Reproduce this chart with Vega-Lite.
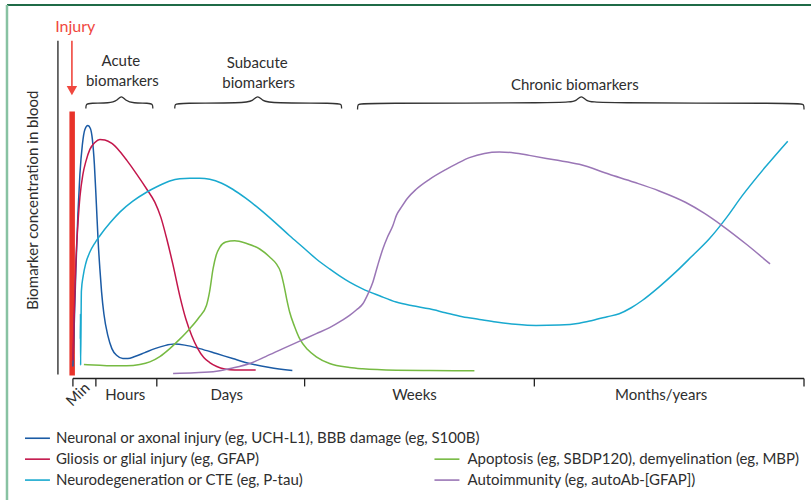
{
  "$schema": "https://vega.github.io/schema/vega-lite/v6.json",
  "width": 812,
  "height": 502,
  "padding": 0,
  "autosize": {"type": "fit", "contains": "padding"},
  "config": {"view": {"stroke": null}, "text": {"font": "Lato", "fontSize": 15, "color": "#2e2e2e"}},
  "datasets": {
    "segs": [
      {"g": "borderTop", "x": 7, "y": 5, "x2": 812, "y2": 5},
      {"g": "borderLeft", "x": 7, "y": 5, "x2": 7, "y2": 502},
      {"g": "axis", "x": 58, "y": 41, "x2": 58, "y2": 376},
      {"g": "axis", "x": 73, "y": 380, "x2": 805, "y2": 380},
      {"g": "axis", "x": 73, "y": 380, "x2": 73, "y2": 388},
      {"g": "axis", "x": 96, "y": 380, "x2": 96, "y2": 388},
      {"g": "axis", "x": 157, "y": 380, "x2": 157, "y2": 388},
      {"g": "axis", "x": 305, "y": 380, "x2": 305, "y2": 388},
      {"g": "axis", "x": 535, "y": 380, "x2": 535, "y2": 388},
      {"g": "axis", "x": 805, "y": 380, "x2": 805, "y2": 388},
      {"g": "arrow", "x": 72, "y": 41, "x2": 72, "y2": 88},
      {"g": "bar", "x": 69.5, "y": 112, "x2": 75, "y2": 377}
    ],
    "braces": [
      {"b": "acute", "i": 0, "x": 86, "y": 109}, {"b": "acute", "i": 1, "x": 86, "y": 104.5}, {"b": "acute", "i": 2, "x": 90, "y": 103.5},
      {"b": "acute", "i": 3, "x": 110, "y": 103.5}, {"b": "acute", "i": 4, "x": 117, "y": 101.5}, {"b": "acute", "i": 5, "x": 121.5, "y": 95},
      {"b": "acute", "i": 6, "x": 126, "y": 101.5}, {"b": "acute", "i": 7, "x": 133, "y": 103.5}, {"b": "acute", "i": 8, "x": 149, "y": 103.5},
      {"b": "acute", "i": 9, "x": 153, "y": 104.5}, {"b": "acute", "i": 10, "x": 153, "y": 109},
      {"b": "sub", "i": 0, "x": 175, "y": 109}, {"b": "sub", "i": 1, "x": 175, "y": 104.5}, {"b": "sub", "i": 2, "x": 179, "y": 103.5},
      {"b": "sub", "i": 3, "x": 245, "y": 103.5}, {"b": "sub", "i": 4, "x": 253, "y": 101.5}, {"b": "sub", "i": 5, "x": 258, "y": 95},
      {"b": "sub", "i": 6, "x": 263, "y": 101.5}, {"b": "sub", "i": 7, "x": 271, "y": 103.5}, {"b": "sub", "i": 8, "x": 338, "y": 103.5},
      {"b": "sub", "i": 9, "x": 342, "y": 104.5}, {"b": "sub", "i": 10, "x": 342, "y": 109},
      {"b": "chr", "i": 0, "x": 358, "y": 110}, {"b": "chr", "i": 1, "x": 358, "y": 104.5}, {"b": "chr", "i": 2, "x": 362, "y": 103.5},
      {"b": "chr", "i": 3, "x": 569, "y": 103.5}, {"b": "chr", "i": 4, "x": 577, "y": 101.5}, {"b": "chr", "i": 5, "x": 582, "y": 95},
      {"b": "chr", "i": 6, "x": 587, "y": 101.5}, {"b": "chr", "i": 7, "x": 595, "y": 103.5}, {"b": "chr", "i": 8, "x": 801, "y": 103.5},
      {"b": "chr", "i": 9, "x": 805, "y": 104.5}, {"b": "chr", "i": 10, "x": 805, "y": 110}
    ],
    "curves": [
      {"s": "blue", "x": 73, "y": 368}, {"s": "blue", "x": 74.5, "y": 320}, {"s": "blue", "x": 76, "y": 270}, {"s": "blue", "x": 78, "y": 215},
      {"s": "blue", "x": 80, "y": 175}, {"s": "blue", "x": 82.5, "y": 145}, {"s": "blue", "x": 85, "y": 130}, {"s": "blue", "x": 88, "y": 126},
      {"s": "blue", "x": 90.5, "y": 129}, {"s": "blue", "x": 92.5, "y": 140}, {"s": "blue", "x": 94.5, "y": 165}, {"s": "blue", "x": 96.5, "y": 205},
      {"s": "blue", "x": 98.3, "y": 243}, {"s": "blue", "x": 100, "y": 270}, {"s": "blue", "x": 101.7, "y": 293}, {"s": "blue", "x": 104, "y": 315},
      {"s": "blue", "x": 108, "y": 337}, {"s": "blue", "x": 112, "y": 350}, {"s": "blue", "x": 117, "y": 357}, {"s": "blue", "x": 123, "y": 360},
      {"s": "blue", "x": 128, "y": 360}, {"s": "blue", "x": 135, "y": 358}, {"s": "blue", "x": 145, "y": 354}, {"s": "blue", "x": 155, "y": 350},
      {"s": "blue", "x": 165, "y": 347}, {"s": "blue", "x": 175, "y": 345.5}, {"s": "blue", "x": 185, "y": 346.5}, {"s": "blue", "x": 200, "y": 350},
      {"s": "blue", "x": 216.7, "y": 355}, {"s": "blue", "x": 233, "y": 360}, {"s": "blue", "x": 250, "y": 365}, {"s": "blue", "x": 270, "y": 369},
      {"s": "blue", "x": 292.7, "y": 372},
      {"s": "red", "x": 73, "y": 362}, {"s": "red", "x": 74.5, "y": 310}, {"s": "red", "x": 76, "y": 262}, {"s": "red", "x": 78, "y": 225},
      {"s": "red", "x": 80, "y": 198}, {"s": "red", "x": 83, "y": 175}, {"s": "red", "x": 86, "y": 162}, {"s": "red", "x": 90, "y": 150},
      {"s": "red", "x": 95, "y": 143}, {"s": "red", "x": 100, "y": 140}, {"s": "red", "x": 105, "y": 140.5}, {"s": "red", "x": 112, "y": 144},
      {"s": "red", "x": 120, "y": 152}, {"s": "red", "x": 127, "y": 161}, {"s": "red", "x": 137, "y": 175}, {"s": "red", "x": 147, "y": 190},
      {"s": "red", "x": 155, "y": 203}, {"s": "red", "x": 161, "y": 218}, {"s": "red", "x": 167, "y": 240}, {"s": "red", "x": 173, "y": 265},
      {"s": "red", "x": 180, "y": 297}, {"s": "red", "x": 186, "y": 320}, {"s": "red", "x": 192, "y": 337}, {"s": "red", "x": 198, "y": 350},
      {"s": "red", "x": 204, "y": 359}, {"s": "red", "x": 210, "y": 364}, {"s": "red", "x": 217, "y": 368}, {"s": "red", "x": 225, "y": 370.5},
      {"s": "red", "x": 235, "y": 371.5}, {"s": "red", "x": 256, "y": 371.5},
      {"s": "cyan", "x": 80.7, "y": 366.7}, {"s": "cyan", "x": 80.4, "y": 340}, {"s": "cyan", "x": 80.6, "y": 315}, {"s": "cyan", "x": 81.5, "y": 292},
      {"s": "cyan", "x": 83.3, "y": 277}, {"s": "cyan", "x": 86, "y": 264}, {"s": "cyan", "x": 90, "y": 253}, {"s": "cyan", "x": 95, "y": 244},
      {"s": "cyan", "x": 100, "y": 236.7}, {"s": "cyan", "x": 110, "y": 224}, {"s": "cyan", "x": 120, "y": 213}, {"s": "cyan", "x": 133, "y": 202},
      {"s": "cyan", "x": 146.7, "y": 193}, {"s": "cyan", "x": 158, "y": 187}, {"s": "cyan", "x": 170, "y": 181.7}, {"s": "cyan", "x": 180, "y": 179.5},
      {"s": "cyan", "x": 190, "y": 179}, {"s": "cyan", "x": 200, "y": 179}, {"s": "cyan", "x": 210, "y": 180}, {"s": "cyan", "x": 222, "y": 184},
      {"s": "cyan", "x": 233, "y": 190}, {"s": "cyan", "x": 246, "y": 199}, {"s": "cyan", "x": 260, "y": 210}, {"s": "cyan", "x": 275, "y": 223},
      {"s": "cyan", "x": 290, "y": 236.7}, {"s": "cyan", "x": 303, "y": 248}, {"s": "cyan", "x": 316.7, "y": 260}, {"s": "cyan", "x": 330, "y": 270},
      {"s": "cyan", "x": 340, "y": 277}, {"s": "cyan", "x": 350, "y": 283.3}, {"s": "cyan", "x": 363, "y": 290}, {"s": "cyan", "x": 380, "y": 297},
      {"s": "cyan", "x": 396.7, "y": 303.3}, {"s": "cyan", "x": 413, "y": 307}, {"s": "cyan", "x": 430, "y": 310}, {"s": "cyan", "x": 446, "y": 314},
      {"s": "cyan", "x": 463, "y": 318}, {"s": "cyan", "x": 480, "y": 320.7}, {"s": "cyan", "x": 496.7, "y": 323.3}, {"s": "cyan", "x": 516, "y": 325.5},
      {"s": "cyan", "x": 536.7, "y": 326.7}, {"s": "cyan", "x": 560, "y": 326.3}, {"s": "cyan", "x": 580, "y": 324.5}, {"s": "cyan", "x": 593, "y": 321.7},
      {"s": "cyan", "x": 608, "y": 318}, {"s": "cyan", "x": 620, "y": 315}, {"s": "cyan", "x": 632, "y": 309}, {"s": "cyan", "x": 643, "y": 301.7},
      {"s": "cyan", "x": 660, "y": 288}, {"s": "cyan", "x": 676.7, "y": 273}, {"s": "cyan", "x": 693, "y": 257}, {"s": "cyan", "x": 710, "y": 240},
      {"s": "cyan", "x": 727, "y": 219}, {"s": "cyan", "x": 743, "y": 196.7}, {"s": "cyan", "x": 766, "y": 168}, {"s": "cyan", "x": 788.7, "y": 141.7},
      {"s": "green", "x": 84, "y": 366}, {"s": "green", "x": 100, "y": 366.8}, {"s": "green", "x": 115, "y": 367.3}, {"s": "green", "x": 126.7, "y": 367.3},
      {"s": "green", "x": 140, "y": 366}, {"s": "green", "x": 150, "y": 363.3}, {"s": "green", "x": 160, "y": 358}, {"s": "green", "x": 170, "y": 350},
      {"s": "green", "x": 180, "y": 340.5}, {"s": "green", "x": 190, "y": 330}, {"s": "green", "x": 199, "y": 319}, {"s": "green", "x": 206.7, "y": 306.7},
      {"s": "green", "x": 210, "y": 292}, {"s": "green", "x": 213.3, "y": 270}, {"s": "green", "x": 216.5, "y": 256}, {"s": "green", "x": 220, "y": 248.3},
      {"s": "green", "x": 226, "y": 243}, {"s": "green", "x": 235, "y": 241.7}, {"s": "green", "x": 247, "y": 244.5}, {"s": "green", "x": 260, "y": 250},
      {"s": "green", "x": 270, "y": 258}, {"s": "green", "x": 276.7, "y": 265}, {"s": "green", "x": 281, "y": 273}, {"s": "green", "x": 284, "y": 285},
      {"s": "green", "x": 287, "y": 300}, {"s": "green", "x": 290, "y": 313.3}, {"s": "green", "x": 295, "y": 328}, {"s": "green", "x": 300, "y": 340},
      {"s": "green", "x": 308, "y": 351}, {"s": "green", "x": 316.7, "y": 358.3}, {"s": "green", "x": 330, "y": 365}, {"s": "green", "x": 350, "y": 369},
      {"s": "green", "x": 363, "y": 370.3}, {"s": "green", "x": 396.7, "y": 371.7}, {"s": "green", "x": 430, "y": 372}, {"s": "green", "x": 475, "y": 372.3},
      {"s": "purple", "x": 173.3, "y": 375}, {"s": "purple", "x": 195, "y": 374.3}, {"s": "purple", "x": 216.7, "y": 372.7}, {"s": "purple", "x": 233, "y": 369.5},
      {"s": "purple", "x": 250, "y": 365}, {"s": "purple", "x": 266, "y": 358}, {"s": "purple", "x": 283.3, "y": 350}, {"s": "purple", "x": 300, "y": 342.5},
      {"s": "purple", "x": 316.7, "y": 335}, {"s": "purple", "x": 330, "y": 329}, {"s": "purple", "x": 342, "y": 322}, {"s": "purple", "x": 350, "y": 316.7},
      {"s": "purple", "x": 357, "y": 311}, {"s": "purple", "x": 363.3, "y": 305}, {"s": "purple", "x": 368, "y": 296}, {"s": "purple", "x": 373.3, "y": 283.3},
      {"s": "purple", "x": 378, "y": 267}, {"s": "purple", "x": 383.3, "y": 250}, {"s": "purple", "x": 388, "y": 238}, {"s": "purple", "x": 393.3, "y": 226.7},
      {"s": "purple", "x": 397, "y": 216}, {"s": "purple", "x": 401.7, "y": 208.3}, {"s": "purple", "x": 408, "y": 199}, {"s": "purple", "x": 416.7, "y": 190},
      {"s": "purple", "x": 430, "y": 180}, {"s": "purple", "x": 446.7, "y": 170}, {"s": "purple", "x": 458, "y": 164}, {"s": "purple", "x": 470, "y": 158.3},
      {"s": "purple", "x": 485, "y": 154}, {"s": "purple", "x": 500, "y": 152.7}, {"s": "purple", "x": 515, "y": 153.5}, {"s": "purple", "x": 530, "y": 156},
      {"s": "purple", "x": 555, "y": 160.5}, {"s": "purple", "x": 580, "y": 165}, {"s": "purple", "x": 610, "y": 175}, {"s": "purple", "x": 635, "y": 183},
      {"s": "purple", "x": 660, "y": 191.7}, {"s": "purple", "x": 686.7, "y": 203.3}, {"s": "purple", "x": 705, "y": 214}, {"s": "purple", "x": 723.3, "y": 226.7},
      {"s": "purple", "x": 747, "y": 245}, {"s": "purple", "x": 771, "y": 265}
    ],
    "labels": [
      {"t": "Acute", "x": 121, "y": 61},
      {"t": "biomarkers", "x": 122.5, "y": 81},
      {"t": "Subacute", "x": 257.5, "y": 63},
      {"t": "biomarkers", "x": 259, "y": 83},
      {"t": "Chronic biomarkers", "x": 575.5, "y": 85},
      {"t": "Hours", "x": 125.5, "y": 397},
      {"t": "Days", "x": 227, "y": 397},
      {"t": "Weeks", "x": 415, "y": 397},
      {"t": "Months/years", "x": 662, "y": 397}
    ],
    "legend": [
      {"s": "blue", "x": 25, "x2": 50, "tx": 56, "y": 440, "t": "Neuronal or axonal injury (eg, UCH-L1), BBB damage (eg, S100B)"},
      {"s": "red", "x": 25, "x2": 50, "tx": 56, "y": 461, "t": "Gliosis or glial injury (eg, GFAP)"},
      {"s": "cyan", "x": 25, "x2": 50, "tx": 56, "y": 482, "t": "Neurodegeneration or CTE (eg, P-tau)"},
      {"s": "green", "x": 435, "x2": 460, "tx": 468, "y": 461, "t": "Apoptosis (eg, SBDP120), demyelination (eg, MBP)"},
      {"s": "purple", "x": 435, "x2": 460, "tx": 468, "y": 482, "t": "Autoimmunity (eg, autoAb-[GFAP])"}
    ]
  },
  "encoding": {
    "x": {"field": "x", "type": "quantitative", "scale": {"domain": [0, 812], "nice": false, "zero": false}, "axis": null},
    "y": {"field": "y", "type": "quantitative", "scale": {"domain": [0, 502], "nice": false, "zero": false, "reverse": true}, "axis": null}
  },
  "layer": [
    {
      "data": {"name": "segs"},
      "transform": [{"filter": "datum.g === 'borderTop'"}],
      "mark": {"type": "rule", "color": "#1f6b47", "strokeWidth": 2, "clip": false},
      "encoding": {"x2": {"field": "x2"}, "y2": {"field": "y2"}}
    },
    {
      "data": {"name": "segs"},
      "transform": [{"filter": "datum.g === 'borderLeft'"}],
      "mark": {"type": "rule", "color": "#88c2a2", "strokeWidth": 2.5, "clip": false},
      "encoding": {"x2": {"field": "x2"}, "y2": {"field": "y2"}}
    },
    {
      "data": {"name": "segs"},
      "transform": [{"filter": "datum.g === 'axis'"}],
      "mark": {"type": "rule", "color": "#222222", "strokeWidth": 1.3},
      "encoding": {"x2": {"field": "x2"}, "y2": {"field": "y2"}}
    },
    {
      "data": {"name": "segs"},
      "transform": [{"filter": "datum.g === 'bar'"}],
      "mark": {"type": "rect", "color": "#e8332a"},
      "encoding": {"x2": {"field": "x2"}, "y2": {"field": "y2"}}
    },
    {
      "data": {"name": "segs"},
      "transform": [{"filter": "datum.g === 'arrow'"}],
      "mark": {"type": "rule", "color": "#f0473e", "strokeWidth": 1.6},
      "encoding": {"x2": {"field": "x2"}, "y2": {"field": "y2"}}
    },
    {
      "data": {"values": [{"x": 72, "y": 91}]},
      "mark": {"type": "point", "shape": "triangle-down", "filled": true, "color": "#f0473e", "size": 110, "opacity": 1}
    },
    {
      "data": {"name": "braces"},
      "mark": {"type": "line", "color": "#333333", "strokeWidth": 1.3, "interpolate": "basis"},
      "encoding": {"detail": {"field": "b"}, "order": {"field": "i", "type": "quantitative"}}
    },
    {
      "data": {"name": "curves"},
      "mark": {"type": "line", "strokeWidth": 1.5, "interpolate": "monotone"},
      "encoding": {
        "color": {"field": "s", "type": "nominal", "legend": null,
          "scale": {"domain": ["blue", "red", "cyan", "green", "purple"], "range": ["#1b5ba5", "#c3164b", "#19a9cf", "#76ba42", "#9a76b6"]}}
      }
    },
    {
      "data": {"name": "labels"},
      "mark": {"type": "text", "align": "center", "baseline": "middle"},
      "encoding": {"text": {"field": "t"}}
    },
    {
      "data": {"values": [{"t": "Min", "x": 78, "y": 396}]},
      "mark": {"type": "text", "align": "center", "baseline": "middle", "angle": 315},
      "encoding": {"text": {"field": "t"}}
    },
    {
      "data": {"values": [{"t": "Injury", "x": 75.3, "y": 27}]},
      "mark": {"type": "text", "align": "center", "baseline": "middle", "color": "#f0473e", "fontSize": 16},
      "encoding": {"text": {"field": "t"}}
    },
    {
      "data": {"values": [{"t": "Biomarker concentration in blood", "x": 33, "y": 201}]},
      "mark": {"type": "text", "align": "center", "baseline": "middle", "angle": 270},
      "encoding": {"text": {"field": "t"}}
    },
    {
      "data": {"name": "legend"},
      "mark": {"type": "rule", "strokeWidth": 1.6, "clip": false},
      "encoding": {
        "x2": {"field": "x2"},
        "color": {"field": "s", "type": "nominal", "legend": null,
          "scale": {"domain": ["blue", "red", "cyan", "green", "purple"], "range": ["#1b5ba5", "#c3164b", "#19a9cf", "#76ba42", "#9a76b6"]}}
      }
    },
    {
      "data": {"name": "legend"},
      "mark": {"type": "text", "align": "left", "baseline": "middle"},
      "encoding": {"x": {"field": "tx", "type": "quantitative"}, "text": {"field": "t"}}
    }
  ]
}
